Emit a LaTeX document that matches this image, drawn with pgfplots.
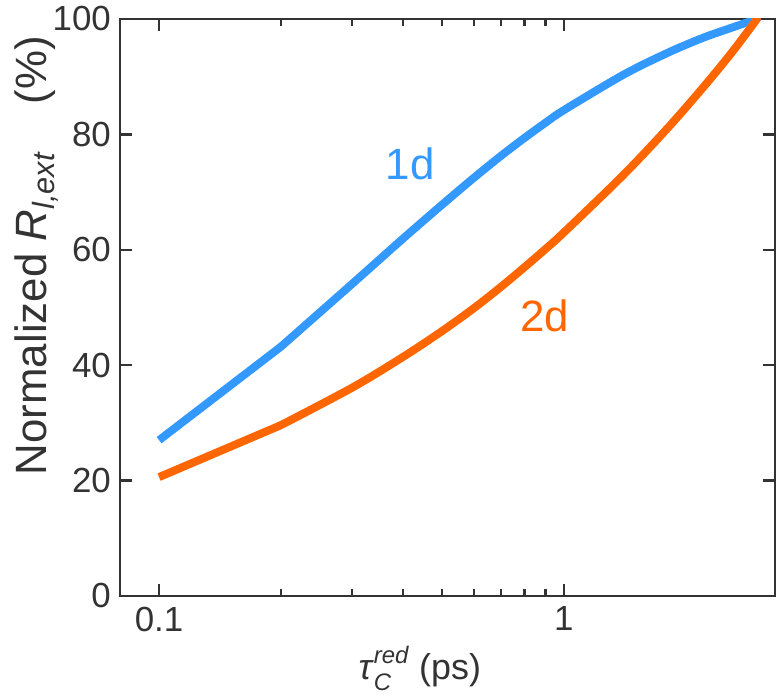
\documentclass[border=0pt]{standalone}
\usepackage{pgfplots}
\pgfplotsset{compat=1.18}
\usepackage{fontspec}
\setmainfont{Liberation Sans}
\definecolor{blueline}{HTML}{3399FF}
\definecolor{orangeline}{HTML}{FF6600}
\definecolor{axisgray}{HTML}{333333}
\newcommand{\scr}[1]{{\fontsize{12}{12}\selectfont\textit{#1}}}

\begin{document}
\begin{tikzpicture}
\begin{axis}[
  scale only axis,
  width=327.5bp,
  height=288.5bp,
  xmode=log,
  xmin=0.08, xmax=3.32,
  ymin=0, ymax=100,
  xtick={0.1,1},
  xticklabels={0.1,1},
  ytick={0,20,40,60,80,100},
  minor ytick={},
  tick align=inside,
  major tick length=6bp,
  minor tick length=3.5bp,
  axis line style={axisgray, line width=1.2bp},
  every tick/.style={axisgray, line width=1.2bp},
  tick label style={font=\fontsize{17.5}{21}\selectfont, text=axisgray},
  /pgf/number format/assume math mode=true,
  xticklabel style={yshift=-2bp},
  yticklabel style={xshift=-1bp},
  xlabel={\textit{τ}\rlap{\raisebox{0.45em}{\scr{red}}}\raisebox{-0.3em}{\scr{C}}\hspace{0.5em} (ps)},
  ylabel={Normalized \textit{R}\textsubscript{\textit{l,ext}}\hspace{0.8em} (\%)},
  xlabel style={at={(axis description cs:0.458,-0.126)}, anchor=center,
    font=\fontsize{18}{22}\selectfont, text=axisgray},
  ylabel style={at={(axis description cs:-0.127,0.59)}, anchor=center, rotate=0,
    font=\fontsize{22}{26}\selectfont, text=axisgray},
  line cap=butt,
]
\addplot[blueline, line width=4bp] coordinates {(0.1,27) (0.2,43.2)};
\addplot[blueline, line width=4bp, smooth, line cap=round] coordinates {
  (0.2,43.2) (0.3,54.1) (0.4,61.9) (0.5,67.8) (0.6,72.5) (0.7,76.3)
  (0.8,79.4) (0.9,82.0) (1,84.2) (1.4,90.3) (1.8,94.1) (2.2,96.7) (2.6,98.5) (3,100)
};
\addplot[orangeline, line width=4bp] coordinates {(0.1,20.6) (0.2,29.6)};
\addplot[orangeline, line width=4bp, smooth, line cap=round] coordinates {
  (0.2,29.6) (0.3,36.1) (0.4,41.4) (0.5,45.9) (0.6,49.9) (0.7,53.6)
  (0.8,57.0) (0.9,60.1) (1,63.0) (1.4,72.9) (1.8,81.0) (2.2,88.0) (2.6,94.2) (3,100)
};
\node[blueline, font=\fontsize{22}{26}\selectfont] at (axis cs:0.417,74.9) {1d};
\node[orangeline, font=\fontsize{22}{26}\selectfont] at (axis cs:0.897,48.5) {2d};
\coordinate (bbbl) at (axis description cs:-0.183,-0.177);
\coordinate (bbtr) at (axis description cs:1.0015,1.026);
\end{axis}
\path (bbbl) rectangle (bbtr);
\end{tikzpicture}
\end{document}
